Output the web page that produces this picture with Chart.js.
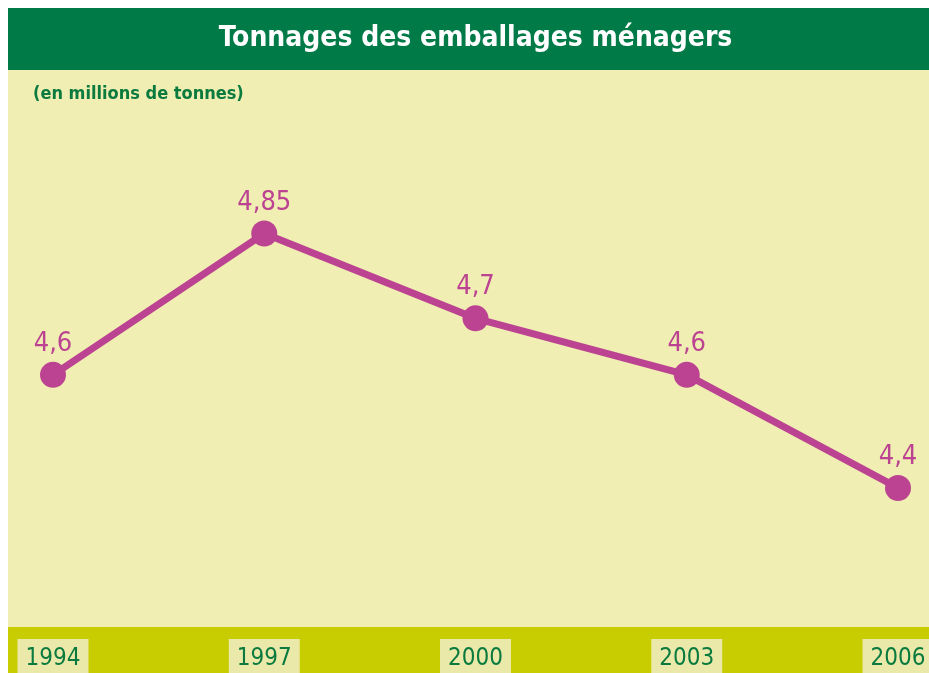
<!DOCTYPE html>
<html lang="fr">
<head>
<meta charset="utf-8">
<title>Tonnages des emballages ménagers</title>
<script src="https://cdn.jsdelivr.net/npm/chart.js@4/dist/chart.umd.min.js"></script>
<style>
    html, body { margin: 0; padding: 0; background: #ffffff; }
    #wrap { width: 929px; height: 673px; position: relative; }
</style>
</head>
<body>
<div id="wrap"><canvas id="chart"></canvas></div>
<script>
const years = ['1994', '1997', '2000', '2003', '2006'];
const tonnages = [4.6, 4.85, 4.7, 4.6, 4.4];
const titleText = 'Tonnages des emballages ménagers';
const unitText = '(en millions de tonnes)';

const green = '#007a47';
const paleYellow = '#f0eeb3';
const band = '#c8cd02';
const labelBox = '#ebe9aa';
const textGreen = '#0b7a3e';
const magenta = '#bb4391';
const family = "'DejaVu Sans Condensed', 'Liberation Sans Narrow', 'DejaVu Sans', sans-serif";

// backgrounds: title bar, pale panel, bottom band
const backdrop = {
    id: 'backdrop',
    beforeDraw(chart) {
        const { ctx, width, height, chartArea } = chart;
        ctx.save();
        ctx.fillStyle = '#ffffff';
        ctx.fillRect(0, 0, width, height);
        ctx.fillStyle = green;
        ctx.fillRect(8, 8, width - 8, 62);
        ctx.fillStyle = paleYellow;
        ctx.fillRect(8, 70, width - 8, height - 70);
        ctx.fillStyle = band;
        ctx.fillRect(8, chartArea.bottom + 26, width - 8, height - chartArea.bottom - 26);
        ctx.fillStyle = textGreen;
        ctx.font = 'bold 18px ' + family;
        ctx.textBaseline = 'middle';
        ctx.textAlign = 'left';
        ctx.fillText(unitText, 33, 94);
        ctx.restore();
    }
};

// value labels above each point
const valueLabels = {
    id: 'valueLabels',
    afterDatasetsDraw(chart) {
        const { ctx } = chart;
        const meta = chart.getDatasetMeta(0);
        ctx.save();
        ctx.fillStyle = magenta;
        ctx.font = '27px ' + family;
        ctx.textAlign = 'center';
        ctx.textBaseline = 'middle';
        meta.data.forEach((pt, i) => {
            ctx.fillText(String(tonnages[i]).replace('.', ','), pt.x, pt.y - 31);
        });
        ctx.restore();
    }
};

new Chart(document.getElementById('chart'), {
    type: 'line',
    data: {
        labels: years,
        datasets: [{
            data: tonnages,
            borderColor: magenta,
            backgroundColor: magenta,
            borderWidth: 7,
            pointRadius: 13,
            pointHoverRadius: 13,
            pointBackgroundColor: magenta,
            pointBorderWidth: 0,
            tension: 0,
            clip: false,
        }],
    },
    options: {
        responsive: true,
        maintainAspectRatio: false,
        animation: false,
        events: [],
        layout: { padding: { top: 8, left: 53, right: 31, bottom: 0 } },
        plugins: {
            legend: { display: false },
            tooltip: { enabled: false },
            title: {
                display: true,
                text: titleText,
                color: '#ffffff',
                font: { family, size: 28, weight: 'bold', lineHeight: 1.2 },
                padding: { top: 14, bottom: 14 },
            },
        },
        scales: {
            x: {
                offset: false,
                grid: { display: false, drawTicks: false },
                border: { display: false },
                afterFit: (scale) => {
                    scale.height = 72;
                    scale.paddingLeft = 0;
                    scale.paddingRight = 0;
                },
                ticks: {
                    color: textGreen,
                    font: { family, size: 24 },
                    padding: 43,
                    maxRotation: 0,
                    autoSkip: false,
                    showLabelBackdrop: true,
                    backdropColor: labelBox,
                    backdropPadding: { top: 5, bottom: 3, left: 8, right: 8 },
                },
            },
            y: {
                display: false,
                min: 4.2,
                max: 5.14,
            },
        },
    },
    plugins: [backdrop, valueLabels],
});
</script>
</body>
</html>
